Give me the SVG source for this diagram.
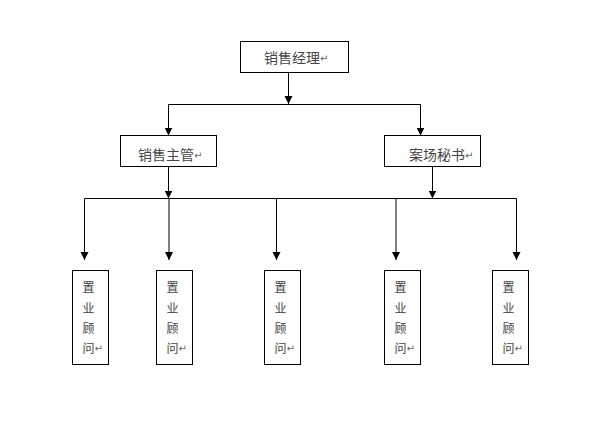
<svg xmlns="http://www.w3.org/2000/svg" width="601" height="428" viewBox="0 0 601 428">
<defs>
<marker id="arr" markerWidth="10" markerHeight="9" refX="8" refY="4.5" orient="auto" markerUnits="userSpaceOnUse">
<path d="M0,0.5 L8,4.5 L0,8.5 z" fill="#000"/>
</marker>
<style>
.box{fill:#fff;stroke:#000;stroke-width:1}
.ln{fill:none;stroke:#000;stroke-width:1}
.arw{marker-end:url(#arr)}
.t{font-family:"Noto Sans CJK SC","Noto Sans",sans-serif;font-size:14px;fill:#444}
.v{font-family:"Noto Sans CJK SC","Noto Sans",sans-serif;font-size:12px;fill:#444}
.rt{font-family:"DejaVu Sans",sans-serif;font-size:10px;fill:#666}
</style>
</defs>
<rect width="601" height="428" fill="#fff"/>
<g id="connectors">
<line class="ln arw" x1="288.5" y1="72.5" x2="288.5" y2="104"/>
<line class="ln" x1="168.5" y1="104.5" x2="420.5" y2="104.5"/>
<line class="ln arw" x1="168.5" y1="104.5" x2="168.5" y2="135.5"/>
<line class="ln arw" x1="420.5" y1="104.5" x2="420.5" y2="135.5"/>
<line class="ln arw" x1="168.5" y1="166.5" x2="168.5" y2="198.5"/>
<line class="ln arw" x1="432.5" y1="166.5" x2="432.5" y2="198.5"/>
<line class="ln" x1="84.5" y1="198.5" x2="516.5" y2="198.5"/>
<line class="ln arw" x1="84.5" y1="198.5" x2="84.5" y2="260"/>
<line class="ln arw" x1="169" y1="198.5" x2="169" y2="260"/>
<line class="ln arw" x1="276.5" y1="198.5" x2="276.5" y2="260"/>
<line class="ln arw" x1="396" y1="198.5" x2="396" y2="260"/>
<line class="ln arw" x1="516.5" y1="198.5" x2="516.5" y2="260"/>
</g>
<g id="manager">
<rect class="box" x="240.5" y="41.5" width="108" height="31"/>
<text class="t" x="264" y="63">销售经理<tspan class="rt" dy="-1">↵</tspan></text>
</g>
<g id="supervisor">
<rect class="box" x="120.5" y="135.5" width="96" height="31"/>
<text class="t" x="138" y="160">销售主管<tspan class="rt" dy="-1">↵</tspan></text>
</g>
<g id="secretary">
<rect class="box" x="384.5" y="135.5" width="96" height="31"/>
<text class="t" x="409" y="160">案场秘书<tspan class="rt" dy="-1">↵</tspan></text>
</g>
<g id="consultant1">
<rect class="box" x="72.5" y="270.5" width="36" height="94"/>
<text class="v" x="82.5"><tspan x="82.5" y="292">置</tspan><tspan x="82.5" y="313">业</tspan><tspan x="82.5" y="333">顾</tspan><tspan x="82.5" y="353">问<tspan class="rt" dy="-1">↵</tspan></tspan></text>
</g>
<g id="consultant2">
<rect class="box" x="156.5" y="270.5" width="36" height="94"/>
<text class="v" x="166.5"><tspan x="166.5" y="292">置</tspan><tspan x="166.5" y="313">业</tspan><tspan x="166.5" y="333">顾</tspan><tspan x="166.5" y="353">问<tspan class="rt" dy="-1">↵</tspan></tspan></text>
</g>
<g id="consultant3">
<rect class="box" x="264.5" y="270.5" width="36" height="94"/>
<text class="v" x="274.5"><tspan x="274.5" y="292">置</tspan><tspan x="274.5" y="313">业</tspan><tspan x="274.5" y="333">顾</tspan><tspan x="274.5" y="353">问<tspan class="rt" dy="-1">↵</tspan></tspan></text>
</g>
<g id="consultant4">
<rect class="box" x="384.5" y="270.5" width="36" height="94"/>
<text class="v" x="394.5"><tspan x="394.5" y="292">置</tspan><tspan x="394.5" y="313">业</tspan><tspan x="394.5" y="333">顾</tspan><tspan x="394.5" y="353">问<tspan class="rt" dy="-1">↵</tspan></tspan></text>
</g>
<g id="consultant5">
<rect class="box" x="492.5" y="270.5" width="36" height="94"/>
<text class="v" x="502.5"><tspan x="502.5" y="292">置</tspan><tspan x="502.5" y="313">业</tspan><tspan x="502.5" y="333">顾</tspan><tspan x="502.5" y="353">问<tspan class="rt" dy="-1">↵</tspan></tspan></text>
</g>
</svg>
